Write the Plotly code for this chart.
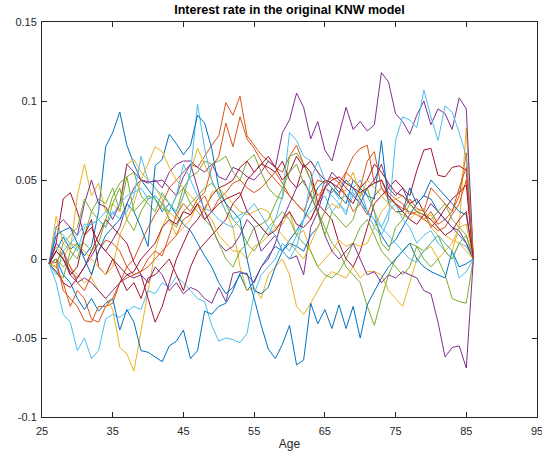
import plotly.graph_objects as go

# Simulated short-rate paths, age 26..86, values in units of 0.001
ages = list(range(26, 87))

path_01 = [-3, 5, 14, 6, 10, 2, 8, 30, 71, 80,
           93, 72, 60, 50, 44, 38, 30, 35, 28, 22,
           18, 10, 2, -5, -15, -22, -18, -10, -20, -14,
           -5, 2, 8, 5, 12, 18, 25, 35, 45, 50,
           48, 42, 50, 45, 38, 30, 25, 15, 8, 12,
           20, 28, 35, 40, 38, 30, 25, 20, 15, 10,
           0]
path_02 = [-3, -5, -15, -30, -20, -25, -38, -40, -30, -28,
           -15, -5, 0, 10, 20, 28, 35, 45, 50, 55,
           60, 58, 65, 72, 78, 99, 91, 103, 78, 72,
           66, 62, 58, 55, 65, 72, 60, 50, 40, 45,
           42, 48, 40, 30, 35, 28, 40, 45, 38, 35,
           32, 30, 28, 25, 30, 22, 25, 30, 40, 67,
           0]
path_03 = [-3, 8, 0, -5, -10, -15, -12, -20, -25, -32,
           -56, -60, -71, -45, -20, 5, 20, 30, 25, 40,
           55, 70, 60, 50, 40, 30, 20, -5, -20, -18,
           -25, -10, -5, 0, -10, -30, -35, -28, -20, -12,
           -8, -10, -12, -5, -12, -8, -8, -10, -20, -25,
           -30, -15, 0, 5, 8, 0, 5, 10, 20, 83,
           0]
path_04 = [-3, 5, 0, -8, -12, -5, 2, 10, 5, 12,
           20, 35, 45, 50, 48, 50, 45, 55, 60, 62,
           62, 58, 55, 60, 52, 50, 58, 56, 52, 50,
           55, 62, 58, 80, 88, 105, 96, 76, 87, 69,
           62, 79, 96, 82, 87, 81, 85, 118, 112, 92,
           87, 79, 91, 100, 85, 95, 92, 82, 102, 95,
           0]
path_05 = [-3, -8, -12, 5, 0, 15, 30, 38, 35, 45,
           30, 52, 55, 40, 35, 30, 42, 35, 30, 45,
           52, 55, 62, 60, 62, 65, 55, 50, 62, 66,
           55, 45, 40, 38, 65, 67, 60, 50, 30, 20,
           10, 5, -5, -10, -15, -30, -42, -25, -10, 0,
           5, 10, 8, 0, -5, 0, -10, -25, -27, -28,
           0]
path_06 = [-3, -15, -35, -40, -58, -50, -63, -58, -38, -35,
           -37, -33, -30, -32, -20, -22, -15, -18, -11, -15,
           -20, -25, -27, -42, -52, -50, -51, -53, -47, -22,
           -10, -5, 0, 10, 5, 15, 25, 30, 35, 40,
           30, 35, 28, 45, 50, 40, 30, 20, 30, 35,
           25, 20, 10, 15, 18, 10, 5, 0, 10, 8,
           0]
path_07 = [-3, 10, 38, 42, 30, 15, 25, -5, -10, 0,
           -10, -20, -15, -25, -12, -10, -5, 0, -10, -20,
           -5, 5, 10, 15, 20, 25, 35, 40, 50, 55,
           60, 58, 55, 62, 50, 45, 60, 55, 35, 30,
           25, 10, 0, -5, 5, 20, 35, 40, 45, 50,
           45, 40, 56, 69, 70, 53, 52, 58, 59, 56,
           0]
path_08 = [-3, 0, -10, -15, -25, -32, -25, -33, -28, -25,
           -45, -32, -40, -58, -59, -62, -65, -55, -52, -45,
           -63, -58, -33, -35, -30, -28, -20, -9, -9, -25,
           -42, -57, -63, -54, -42, -67, -64, -28, -41, -32,
           -44, -29, -44, -30, -50, -29, -20, -12, -5, 0,
           5, 10, 0, -5, -8, -10, -12, 5, -5, -3,
           0]
path_09 = [-3, -2, 5, -5, -15, -20, -10, 5, 12, 10,
           5, -5, -10, -8, 0, 5, 2, 15, 28, 35,
           30, 38, 42, 58, 65, 86, 71, 90, 76, 70,
           62, 55, 50, 45, 40, 35, 30, 25, 35, 50,
           45, 40, 55, 65, 70, 72, 48, 50, 42, 38,
           35, 28, 30, 25, 22, 18, 20, 28, 35, 50,
           0]
path_10 = [-3, 27, 10, 5, 40, 60, 40, 48, 30, 35,
           30, 60, 63, 55, 50, 45, 38, 25, 15, 20,
           25, 35, 30, 25, 15, 10, 5, 5, 0, 8,
           10, 15, 20, 22, 30, 15, 18, 5, -5, 0,
           5, 12, 8, 10, 8, 10, 20, 30, 35, 38,
           40, 35, 30, 25, 28, 20, 15, 12, 10, 5,
           0]
path_11 = [-3, 20, 25, 20, 15, 35, 50, 35, 33, 25,
           35, 60, 55, 50, 49, 49, 50, 45, 40, 52,
           60, 45, 30, 20, 10, 5, 8, 15, 25, 20,
           5, 10, 15, 5, 0, 2, -10, 20, 30, 45,
           55, 50, 45, 40, 35, 45, 50, 60, 45, 40,
           45, 35, 30, 28, 35, 30, 25, 20, 18, 10,
           0]
path_12 = [-3, -5, 10, 15, 20, 38, 30, 25, 20, 35,
           45, 25, 18, 30, 38, 40, 35, 25, 20, 30,
           35, 40, 45, 48, 42, 35, 25, 20, 10, 5,
           12, 20, 25, 30, 25, 15, 10, 5, -5, -10,
           -12, -8, 0, 10, 20, 25, 15, 5, 0, -5,
           -10, -5, 8, 5, 10, 15, 5, 0, 10, 15,
           0]
path_13 = [-3, 20, 15, 10, 5, 20, 22, 25, 20, 30,
           25, 30, 40, 65, 50, 45, 40, 35, 30, 40,
           55, 98, 70, 50, 40, 30, 25, 28, 30, 25,
           20, 15, 25, 40, 80, 75, 65, 62, 55, 45,
           40, 35, 30, 40, 45, 30, 20, 15, 25, 75,
           90, 88, 83, 107, 90, 75, 97, 93, 80, 65,
           0]
path_14 = [-3, -8, -15, -18, -12, -5, 5, 15, 25, 20,
           15, 10, -2, -10, -25, -40, -30, -15, 0, 10,
           20, 25, 32, 40, 45, 47, 50, 58, 62, 55,
           60, 65, 58, 50, 55, 65, 58, 62, 55, 50,
           48, 45, 40, 35, 45, 50, 60, 55, 48, 42,
           40, 35, 38, 30, 20, 25, 32, 38, 42, 47,
           0]
path_15 = [-3, 15, 18, 20, 10, 0, -10, 5, 15, 20,
           25, 35, 30, 20, 8, 59, 63, 79, 73, 66,
           72, 91, 86, 70, 45, 35, 30, 25, 0, -20,
           -22, -18, -5, 5, 10, 8, 5, 15, 20, 30,
           45, 40, 35, 50, 45, 40, 38, 75, 35, 30,
           30, 45, 35, 40, 50, 45, 40, 35, 30, 28,
           0]
path_16 = [-3, 0, -20, -25, -30, -39, -40, -30, -30, -25,
           -15, -12, -10, -8, -5, 0, 5, 10, 15, 25,
           28, 35, 40, 30, 38, 42, 48, 50, 45, 42,
           45, 50, 55, 48, 40, 35, 30, 42, 50, 48,
           52, 48, 55, 50, 45, 62, 68, 45, 40, 35,
           30, 38, 32, 30, 45, 40, 35, 30, 45, 58,
           0]
path_17 = [-3, -5, 0, 10, 8, 5, 0, -5, -10, -5,
           15, 25, 35, 50, 60, 71, 68, 58, 50, 45,
           40, 35, 30, 42, 45, 40, 35, 30, 28, 30,
           32, 30, 20, 15, 10, 5, 0, 10, 20, 30,
           35, 32, 45, 55, 40, 50, 45, 40, 35, 30,
           28, 25, 30, 32, 20, 15, 10, 5, 20, 22,
           0]
path_18 = [-3, 10, 5, -10, -15, -12, -15, -20, -25, -20,
           -15, -10, -12, -10, -15, -5, -10, -20, -15, -22,
           -18, -20, -25, -28, -18, -27, -9, -8, -10, -15,
           -5, 0, 10, 25, 35, 45, 50, 40, 30, 15,
           5, 0, 5, 10, 0, -10, -8, -15, -10, -12,
           -8, -10, -12, -20, -22, -40, -62, -56, -55, -69,
           0]
path_19 = [-3, 0, -5, 0, 8, 10, 5, 10, 25, 40,
           48, 52, 30, 35, 40, 38, 32, 30, 40, 45,
           35, 30, 25, 20, 10, 0, -5, 5, 10, 20,
           22, 25, 35, 45, 55, 60, 48, 42, 28, 15,
           30, 25, 20, 25, 40, 45, 30, 10, 5, 20,
           25, 35, 30, 28, 25, 30, 35, 25, 20, 15,
           0]
path_20 = [-3, -10, 5, 10, 15, 22, 22, 25, 30, 28,
           35, 40, 42, 45, 38, 40, 35, 30, 40, 60,
           50, 40, 32, 30, 25, 22, 20, 25, 30, 35,
           28, 20, 15, 5, 0, 8, 25, 50, 62, 50,
           45, 38, 40, 42, 35, 30, 25, 20, 15, 10,
           5, 0, -2, 5, 10, 15, 10, 5, -12, -8,
           0]
path_21 = [-3, 5, 0, -10, -5, 15, 20, 10, 5, 0,
           -5, -10, -8, 0, 5, 10, 20, 25, 22, 30,
           28, 35, 25, 30, 35, 38, 40, 42, 30, 25,
           20, 15, 18, 25, 30, 22, 20, 25, 35, 45,
           50, 52, 48, 45, 42, 45, 48, 50, 40, 35,
           30, 25, 22, 28, 25, 20, 15, 18, 25, 30,
           0]

paths = [path_01, path_02, path_03, path_04, path_05, path_06, path_07,
         path_08, path_09, path_10, path_11, path_12, path_13, path_14,
         path_15, path_16, path_17, path_18, path_19, path_20, path_21]

# default MATLAB line colour order
colors = ["#0072BD", "#D95319", "#EDB120", "#7E2F8E",
          "#77AC30", "#4DBEEE", "#A2142F"]

xtick_vals = [25, 35, 45, 55, 65, 75, 85, 95]
ytick_vals = [-0.1, -0.05, 0, 0.05, 0.1, 0.15]
ytick_text = ["-0.1", "-0.05", "0", "0.05", "0.1", "0.15"]

fig = go.Figure()
for i, p in enumerate(paths):
    fig.add_trace(go.Scatter(
        x=ages, y=[v / 1000 for v in p], mode="lines",
        line=dict(color=colors[i % len(colors)], width=1),
        showlegend=False, hoverinfo="skip"))

axis_common = dict(
    showgrid=False, zeroline=False, showline=True, linecolor="#262626",
    linewidth=1, mirror="ticks", ticks="inside", ticklen=5,
    tickcolor="#262626", tickfont=dict(size=11, color="#262626"),
    ticklabeloverflow="allow", automargin=False,
)

fig.update_layout(
    width=542, height=451,
    margin=dict(l=42, r=5, t=22, b=34, autoexpand=False),
    paper_bgcolor="white", plot_bgcolor="white",
    font=dict(family="Liberation Sans, Arial, sans-serif", color="#262626"),
    title=dict(text="<b>Interest rate in the original KNW model</b>",
               x=0.5, xanchor="center", xref="paper",
               y=1, yref="container", yanchor="top", pad=dict(t=5),
               font=dict(size=12.5, color="black")),
    xaxis=dict(range=[25, 95], tickvals=xtick_vals, ticklabelstandoff=4,
               title=dict(text="Age", font=dict(size=12), standoff=6),
               **axis_common),
    yaxis=dict(range=[-0.1, 0.15], tickvals=ytick_vals, ticktext=ytick_text,
               ticklabelstandoff=2, **axis_common),
)

fig.write_html("out.html")
